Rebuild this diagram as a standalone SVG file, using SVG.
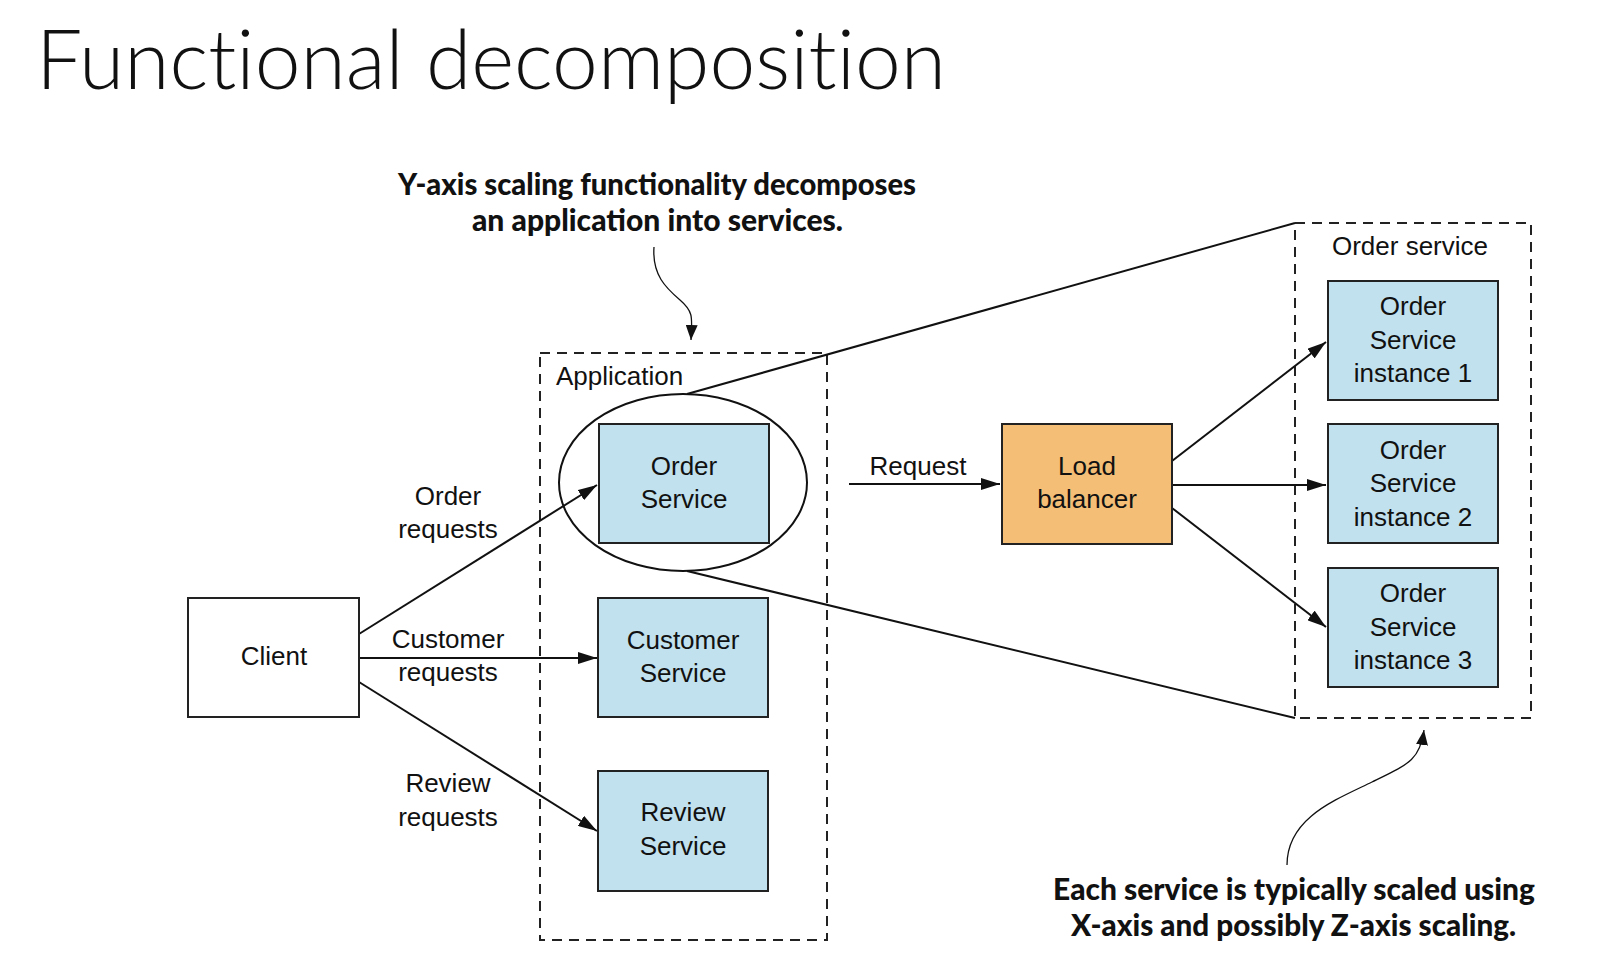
<svg xmlns="http://www.w3.org/2000/svg" width="1610" height="959" viewBox="0 0 1610 959">
<style>
.lbl{font-family:"Liberation Sans",Arial,sans-serif;font-size:26px;fill:#111;text-anchor:middle}
.lbl-l{font-family:"Liberation Sans",Arial,sans-serif;font-size:26px;fill:#111}
.note{font-family:Lato,"Open Sans",sans-serif;font-weight:900;font-size:30px;fill:#111}
.title{font-family:Lato,"Open Sans",sans-serif;font-weight:300;font-size:82px;fill:#111;font-variant-ligatures:none;font-feature-settings:"liga" 0,"clig" 0,"dlig" 0}
.svc{fill:#C1E1EE;stroke:#222;stroke-width:2}
.lb{fill:#F4BE76;stroke:#222;stroke-width:2}
.plain{fill:#fff;stroke:#222;stroke-width:2}
.dash{fill:none;stroke:#222;stroke-width:2;stroke-dasharray:10 7}
.conn{fill:none;stroke:#111;stroke-width:2}
.curve{fill:none;stroke:#111;stroke-width:1.3}
</style>
<defs>
<marker id="arr" markerUnits="userSpaceOnUse" markerWidth="20" markerHeight="12" refX="19" refY="6" orient="auto">
<path d="M0,0 L19,6 L0,12 z" fill="#111"/>
</marker>
<marker id="arrs" markerUnits="userSpaceOnUse" markerWidth="16" markerHeight="12" refX="15" refY="6" orient="auto">
<path d="M0,0 L15,6 L0,12 z" fill="#111"/>
</marker>
</defs>
<rect width="1610" height="959" fill="#fff"/>

<text class="title" x="36" y="89" textLength="910" lengthAdjust="spacingAndGlyphs">Functional decomposition</text>

<g id="note-y">
<text class="note" x="398" y="195" textLength="518" lengthAdjust="spacingAndGlyphs">Y-axis scaling functionality decomposes</text>
<text class="note" x="472" y="231" textLength="371" lengthAdjust="spacingAndGlyphs">an application into services.</text>
</g>
<g id="note-x">
<text class="note" x="1053" y="900" textLength="482" lengthAdjust="spacingAndGlyphs">Each service is typically scaled using</text>
<text class="note" x="1071" y="936" textLength="445" lengthAdjust="spacingAndGlyphs">X-axis and possibly Z-axis scaling.</text>
</g>

<g id="application">
<rect class="dash" x="540" y="353" width="287" height="587"/>
<text class="lbl-l" x="556" y="385">Application</text>
</g>

<g id="order-service-group">
<rect class="dash" x="1295" y="223" width="236" height="495"/>
<text class="lbl" x="1410" y="255">Order service</text>
</g>

<g id="connectors">
<line class="conn" x1="687" y1="394" x2="1295" y2="223"/>
<line class="conn" x1="687" y1="571" x2="1295" y2="718"/>
<line class="conn" x1="359" y1="634" x2="597" y2="485" marker-end="url(#arr)"/>
<line class="conn" x1="359" y1="658" x2="597" y2="658" marker-end="url(#arr)"/>
<line class="conn" x1="359" y1="682" x2="597" y2="831" marker-end="url(#arr)"/>
<line class="conn" x1="849" y1="484" x2="1000" y2="484" marker-end="url(#arr)"/>
<line class="conn" x1="1172" y1="461" x2="1326" y2="342" marker-end="url(#arr)"/>
<line class="conn" x1="1172" y1="485" x2="1326" y2="485" marker-end="url(#arr)"/>
<line class="conn" x1="1172" y1="508" x2="1326" y2="627" marker-end="url(#arr)"/>
<path class="curve" d="M654,247 C652,275 666,288 680,300 S692,318 691,340" marker-end="url(#arrs)"/>
<path class="curve" d="M1287,865 C1287,818 1335,800 1372,782 S1420,760 1424,730" marker-end="url(#arrs)"/>
<text class="lbl" x="448" y="505">Order</text>
<text class="lbl" x="448" y="538">requests</text>
<text class="lbl" x="448" y="648">Customer</text>
<text class="lbl" x="448" y="681">requests</text>
<text class="lbl" x="448" y="792">Review</text>
<text class="lbl" x="448" y="826">requests</text>
<text class="lbl" x="918" y="475">Request</text>
</g>

<g id="order-ellipse">
<ellipse cx="683" cy="482.5" rx="124" ry="88.5" fill="none" stroke="#111" stroke-width="2"/>
</g>

<g id="client">
<rect class="plain" x="188" y="598" width="171" height="119"/>
<text class="lbl" x="274" y="665">Client</text>
</g>

<g id="order-svc">
<rect class="svc" x="599" y="424" width="170" height="119"/>
<text class="lbl" x="684" y="475">Order</text>
<text class="lbl" x="684" y="508">Service</text>
</g>

<g id="customer-svc">
<rect class="svc" x="598" y="598" width="170" height="119"/>
<text class="lbl" x="683" y="649">Customer</text>
<text class="lbl" x="683" y="682">Service</text>
</g>

<g id="review-svc">
<rect class="svc" x="598" y="771" width="170" height="120"/>
<text class="lbl" x="683" y="821">Review</text>
<text class="lbl" x="683" y="855">Service</text>
</g>

<g id="load-balancer">
<rect class="lb" x="1002" y="424" width="170" height="120"/>
<text class="lbl" x="1087" y="475">Load</text>
<text class="lbl" x="1087" y="508">balancer</text>
</g>

<g id="instance-1">
<rect class="svc" x="1328" y="281" width="170" height="119"/>
<text class="lbl" x="1413" y="315">Order</text>
<text class="lbl" x="1413" y="349">Service</text>
<text class="lbl" x="1413" y="382">instance 1</text>
</g>

<g id="instance-2">
<rect class="svc" x="1328" y="424" width="170" height="119"/>
<text class="lbl" x="1413" y="459">Order</text>
<text class="lbl" x="1413" y="492">Service</text>
<text class="lbl" x="1413" y="526">instance 2</text>
</g>

<g id="instance-3">
<rect class="svc" x="1328" y="568" width="170" height="119"/>
<text class="lbl" x="1413" y="602">Order</text>
<text class="lbl" x="1413" y="636">Service</text>
<text class="lbl" x="1413" y="669">instance 3</text>
</g>
</svg>
